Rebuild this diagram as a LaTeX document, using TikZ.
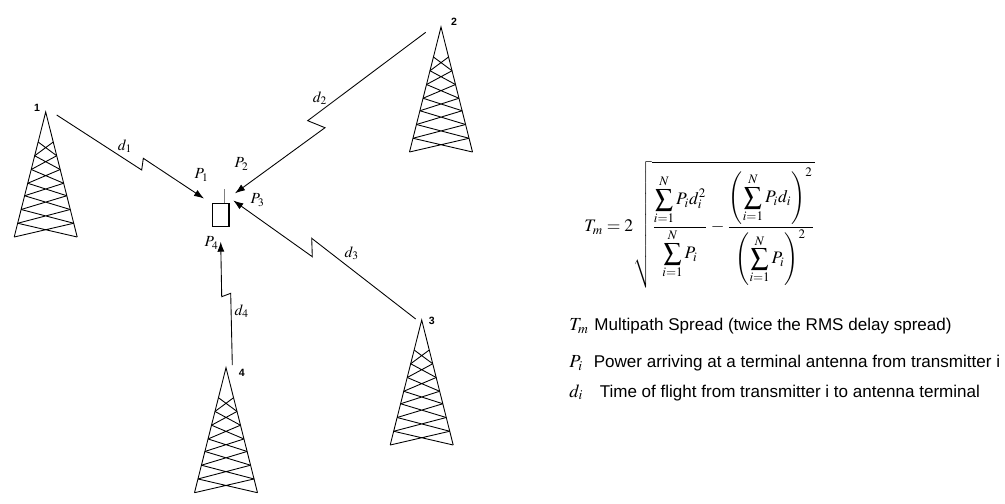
\documentclass[tikz,border=0pt]{standalone}
\usepackage{amsmath}
\usepackage{mathptmx}
\usepackage[no-math]{fontspec}
\setmainfont{Liberation Sans}
\usetikzlibrary{arrows.meta,calc}
\begin{document}
\begin{tikzpicture}[>={Latex[length=2mm,width=1.4mm]}, line width=.5pt]
\useasboundingbox (0,0) rectangle (20.1,10.06);

% towers
\foreach \n/\x/\y in {1/0.914/7.82, 2/8.82/9.52, 3/8.434/3.66, 4/4.52/2.706}{
  \coordinate (top\n) at (\x,\y);
  \begin{scope}[shift={(\x,\y)}]
    \draw(-.63,-2.5)--(0,0)--(.63,-2.5);
    \foreach \a/\b in {.24/.35,.35/.46,.46/.57,.57/.67,.67/.78,.78/.89,.89/1}
      \draw(-.63*\a,-2.5*\a)--(.63*\b,-2.5*\b) (.63*\a,-2.5*\a)--(-.63*\b,-2.5*\b);
  \end{scope}
}
\node[font=\fontsize{6}{7}\selectfont\bfseries] (n1) at (0.74,7.9){1};
\node[font=\fontsize{6}{7}\selectfont\bfseries] (n2) at (9.08,9.62){2};
\node[font=\fontsize{6}{7}\selectfont\bfseries] (n3) at (8.634,3.646){3};
\node[font=\fontsize{6}{7}\selectfont\bfseries] (n4) at (4.834,2.6){4};

% terminal
\node[draw, minimum width=.328cm, minimum height=.454cm, inner sep=0] (term) at (4.41,5.767){};
\draw[line width=.9pt](term.south west)--(term.south east)--(term.north east);
\draw[gray]([xshift=.076cm]term.north)--+(0,.28);

\coordinate (s1) at (1.134,7.76);
\coordinate (s2) at (8.514,9.414);
\coordinate (s3) at (8.314,3.68);
\coordinate (s4) at (4.646,2.76);
\coordinate (in1) at ($(term)+(-.33,.323)$);
\coordinate (in2) at ($(term)+(.29,.427)$);
\coordinate (in3) at ($(term)+(.256,.283)$);
\coordinate (in4) at ($(term)+(.004,-.541)$);

\draw[->](s1)--++(1.7,-1.1)--++(.032,.234)--(in1);
\draw[->](s2)--++(-2.36,-1.768)--++(.346,-.14)--(in2);
\draw[->](s3)--++(-2.08,1.614)--++(.012,-.368)--(in3);
\draw[->](s4)--++(-.032,1.434)--++(-.18,-.068)--(in4);

\begin{scope}[font=\fontsize{8.8}{10}\selectfont]
\node (d1) at (2.5,7.14){$d_1$};
\node (d2) at (6.4,8.1){$d_2$};
\node (d3) at (7.034,4.994){$d_3$};
\node (d4) at (4.834,3.84){$d_4$};
\node (P1) at (4.034,6.56){$P_1$};
\node (P2) at (4.834,6.78){$P_2$};
\node (P3) at (5.154,6.06){$P_3$};
\node (P4) at (4.234,5.2){$P_4$};
\end{scope}

% formula
\node[anchor=west, font=\fontsize{10}{12}\selectfont] (tm) at (11.56,5.56)
  {$\displaystyle T_m=2\sqrt{\frac{\displaystyle\sum_{i=1}^N P_i d_i^2}{\displaystyle\sum_{i=1}^N P_i}
   -\frac{\left(\displaystyle\sum_{i=1}^N P_i d_i\right)^2}{\left(\displaystyle\sum_{i=1}^N P_i\right)^2}}$};

% legend
\node[anchor=base west, font=\fontsize{10.5}{12}\selectfont] (kT) at (11.26,3.446){$T_m$};
\node[anchor=base west, font=\fontsize{10.5}{12}\selectfont] (kP) at (11.26,2.714){$P_i$};
\node[anchor=base west, font=\fontsize{10.5}{12}\selectfont] (kd) at (11.26,2.12){$d_i$};
\node[anchor=base west, inner sep=0, font=\fontsize{9.7}{11}\selectfont] (tT) at (11.88,3.446){Multipath Spread (twice the RMS delay spread)};
\node[anchor=base west, inner sep=0, font=\fontsize{9.7}{11}\selectfont] (tP) at (11.866,2.714){Power arriving at a terminal antenna from transmitter i};
\node[anchor=base west, inner sep=0, font=\fontsize{9.7}{11}\selectfont] (td) at (11.986,2.12){Time of flight from transmitter i to antenna terminal};

\end{tikzpicture}
\end{document}
